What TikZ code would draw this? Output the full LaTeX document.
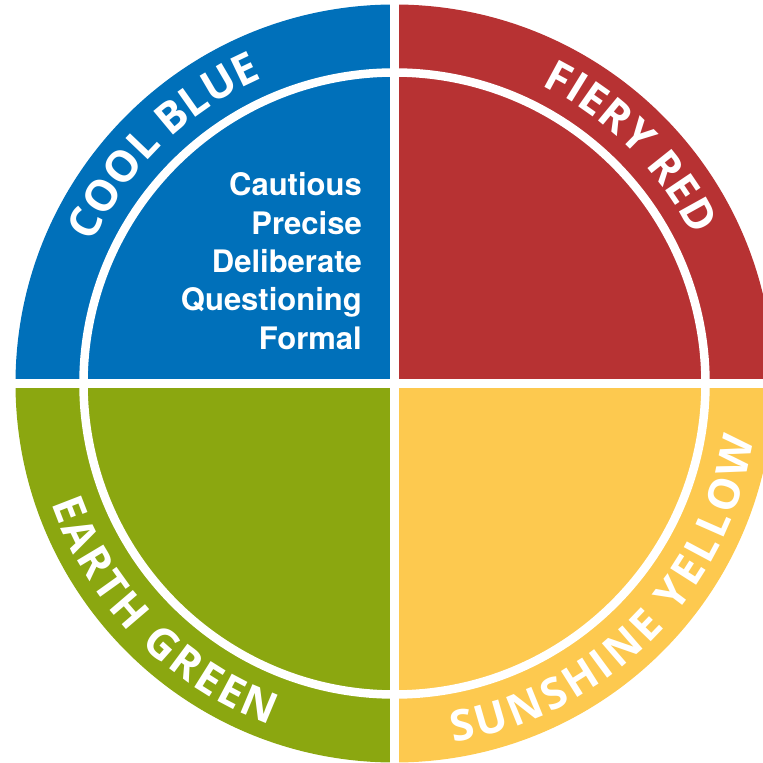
\documentclass[tikz,border=0pt]{standalone}
\usepackage{fontspec}
\usetikzlibrary{decorations.text}
\newfontfamily\ringfont{Open Sans}
\newfontfamily\traitfont{TeX Gyre Heros}
\definecolor{coolblue}{HTML}{0070BA}
\definecolor{fieryred}{HTML}{B73233}
\definecolor{earthgreen}{HTML}{8BA710}
\definecolor{sunyellow}{HTML}{FDC94F}
\begin{document}
\begin{tikzpicture}[x=1pt,y=1pt,
    ringtext/.style={decorate,decoration={text along path,
        text={|\ringfont\bfseries\fontsize{43}{43}\selectfont|#1},
        text align={fit to path},text color=white}},
    trait/.style={text=white,inner sep=0pt,anchor=base east,
        font=\traitfont\bfseries\fontsize{31}{31}\selectfont}]
    \clip(-394.5,-379.5)rectangle(368.5,383.5);
    % quadrants
    \foreach \c [count=\i] in {fieryred,coolblue,earthgreen,sunyellow}
        \fill[\c](0,0)--({(\i-1)*90}:379)arc[start angle={(\i-1)*90},delta angle=90,radius=379pt]--cycle;
    \draw[white,line width=9pt](-390,0)--(390,0) (0,-390)--(0,390);
    \draw[white,line width=8.5pt](0,0)circle[radius=311pt];
    % ring labels
    \path[ringtext=COOL BLUE](155:332.5)arc[start angle=155,end angle=115,radius=332.5pt];
    \path[ringtext=FIERY RED](63.7:332.5)arc[start angle=63.7,end angle=26.3,radius=332.5pt];
    \path[ringtext=EARTH GREEN](199.3:363.5)arc[start angle=199.3,end angle=250,radius=363.5pt];
    \path[ringtext=SUNSHINE YELLOW](279.3:363.5)arc[start angle=279.3,end angle=351.2,radius=363.5pt];
    % traits
    \foreach \w [count=\i] in {Cautious,Precise,Deliberate,Questioning,Formal}
        \node[trait](trait\i)at(-32.5,{187.5-(\i-1)*38.3}){\w};
\end{tikzpicture}
\end{document}
